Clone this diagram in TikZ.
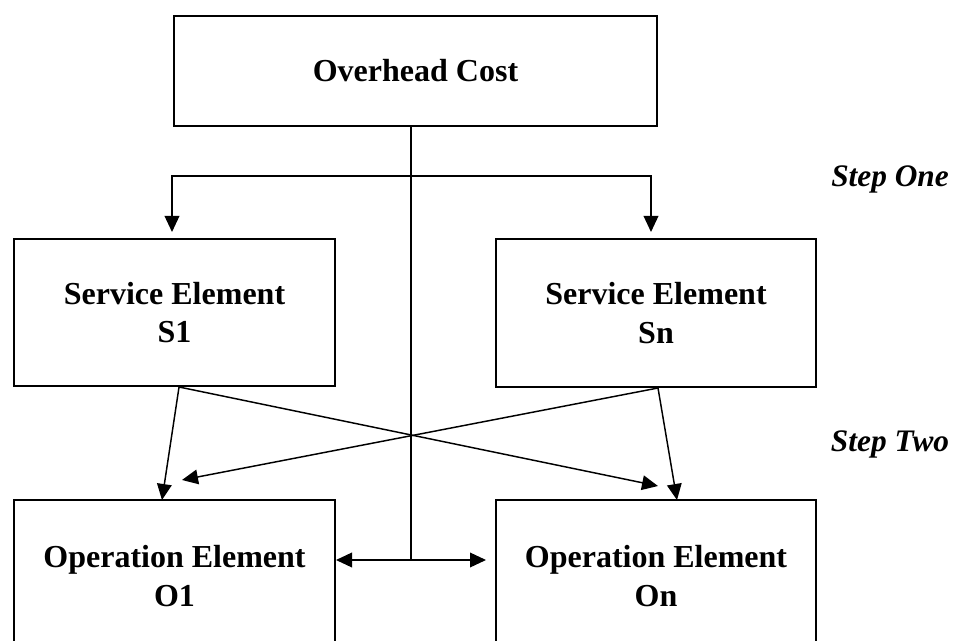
\documentclass[tikz,border=0pt]{standalone}
\usepackage{fontspec}
\setmainfont{Liberation Serif}
\usetikzlibrary{arrows.meta}
\begin{document}
\begin{tikzpicture}[x=0.75pt,y=-0.75pt,
  box/.style={draw, line width=1.5pt, inner sep=0pt, align=center,
    font=\fontsize{24}{29}\selectfont\bfseries},
  conn/.style={line width=1.1pt, -{Triangle[length=12pt,width=11pt]}},
  dbl/.style={line width=1.1pt, {Triangle[length=12pt,width=11pt]}-{Triangle[length=12pt,width=11pt]}},
  steplabel/.style={font=\fontsize{23.5}{28}\selectfont\bfseries\itshape}]
\useasboundingbox (0,0) rectangle (956,641);
\clip (0,0) rectangle (956,641);
% boxes
\node[box, minimum width=362.25pt, minimum height=82.5pt] (top) at (415.5,71) {Overhead Cost};
\node[box, minimum width=240.75pt, minimum height=110.25pt] (s1) at (174.5,312.5) {Service Element\\S1};
\node[box, minimum width=240pt, minimum height=111pt] (sn) at (656,313) {Service Element\\Sn};
\node[box, minimum width=240.75pt, minimum height=114pt] (o1) at (174.5,576) {Operation Element\\O1};
\node[box, minimum width=240pt, minimum height=114pt] (on) at (656,576) {Operation Element\\On};
% step labels
\node[steplabel] (stepone) at (890,179) {Step One};
\node[steplabel] (steptwo) at (890,444) {Step Two};
% helper coordinates
\coordinate (vx) at (411,560);
\coordinate (hl) at (172,176);
\coordinate (hr) at (651,176);
\coordinate (t1) at (658,486);
\coordinate (t2) at (182,480);
% trunk
\draw[line width=1.1pt] (top.south -| vx) -- (vx);
% step one
\draw[conn, shorten >=4.5pt] (vx |- hl) -- (hl) -- (hl |- s1.north);
\draw[conn, shorten >=4.5pt] (vx |- hl) -- (hr) -- (hr |- sn.north);
% step two
\draw[conn] ([xshift=3.4pt]s1.south) -- ([xshift=-9.4pt,yshift=-0.75pt]o1.north);
\draw[conn] ([xshift=3.4pt]s1.south) -- (t1);
\draw[conn] ([xshift=1.5pt]sn.south) -- (t2);
\draw[conn] ([xshift=1.5pt]sn.south) -- ([xshift=15.75pt,yshift=-0.75pt]on.north);
% bottom double arrow
\draw[dbl, shorten >=6.75pt] (o1.east |- vx) -- (on.west |- vx);
\end{tikzpicture}
\end{document}
